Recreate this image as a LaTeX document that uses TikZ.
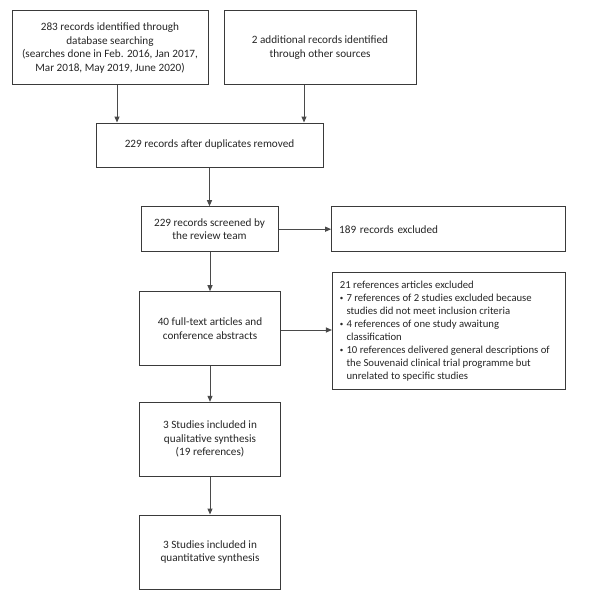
\documentclass[tikz,border=0pt]{standalone}
\usepackage{fontspec}
\setmainfont{Carlito}
\usetikzlibrary{arrows.meta}
\definecolor{boxc}{HTML}{3A3A3A}
\definecolor{arrc}{HTML}{4A4A4A}
\definecolor{txtc}{HTML}{262626}
\newcommand{\bul}{\makebox[6.6pt][l]{\raisebox{0.5pt}{\fontsize{7}{7}\selectfont\textbullet}}}
\newcommand{\ind}{\hspace*{6.6pt}}
\begin{document}
\begin{tikzpicture}[x=1pt,y=-1pt,
  box/.style={draw=boxc, line width=1pt, inner sep=0pt, text=txtc, align=center,
    font=\fontsize{11.2}{13.5}\selectfont},
  lbox/.style={box, align=left, inner xsep=7.5pt},
  arr/.style={draw=arrc, line width=1pt, -{Triangle[length=6pt,width=5pt]}}]
\fill[white] (0,0) rectangle (613,602);
\useasboundingbox (0,0) rectangle (613,602);

\node[box, minimum width=196pt, minimum height=74.3pt] (A) at (110,47.8)
  {283 records identified through\\database searching\\(searches done in Feb. 2016, Jan 2017,\\Mar 2018, May 2019, June 2020)};
\node[box, minimum width=192pt, minimum height=74.3pt] (B) at (320,47.8)
  {2 additional records identified\\through other sources};
\node[box, minimum width=227pt, minimum height=44pt] (C) at (209.5,145)
  {229 records after duplicates removed};
\node[box, minimum width=137pt, minimum height=45pt] (D) at (209.5,229.2)
  {229 records screened by\\the review team};
\node[lbox, minimum width=234.3pt, minimum height=45.3pt, text width=219.3pt] (E) at (448.8,229.3)
  {189 records excluded};
\node[box, minimum width=233.5pt, minimum height=117pt,
  font=\fontsize{10.7}{13}\selectfont] (F) at (449.2,331)
  {\makebox[218.5pt][l]{\begin{tabular}{@{}l@{}}
   21 references articles excluded\\
   \bul 7 references of 2 studies excluded because\\
   \ind studies did not meet inclusion criteria\\
   \bul 4 references of one study awaitung\\
   \ind classification\\
   \bul 10 references delivered general descriptions of\\
   \ind the Souvenaid clinical trial programme but\\
   \ind unrelated to specific studies
   \end{tabular}}};
\node[box, minimum width=141.4pt, minimum height=74pt] (G) at (210,328.7)
  {40 full-text articles and\\conference abstracts};
\node[box, minimum width=141.4pt, minimum height=73.7pt] (H) at (210,439.2)
  {3 Studies included in\\qualitative synthesis\\(19 references)};
\node[box, minimum width=141.4pt, minimum height=74pt] (I) at (210,552)
  {3 Studies included in\\quantitative synthesis};

\coordinate (xa) at (117,0);
\coordinate (xb) at (304,0);
\coordinate (yg) at (0,330);
\draw[arr] (A.south -| xa) -- (C.north -| xa);
\draw[arr] (B.south -| xb) -- (C.north -| xb);
\draw[arr] (C.south -| D.north) -- (D.north);
\draw[arr] (D.east) -- (D.east -| E.west);
\draw[arr] (D.south -| G.north) -- (G.north);
\draw[arr] (G.east |- yg) -- (F.west |- yg);
\draw[arr] (G.south) -- (H.north);
\draw[arr] (H.south) -- (I.north);
\end{tikzpicture}
\end{document}
